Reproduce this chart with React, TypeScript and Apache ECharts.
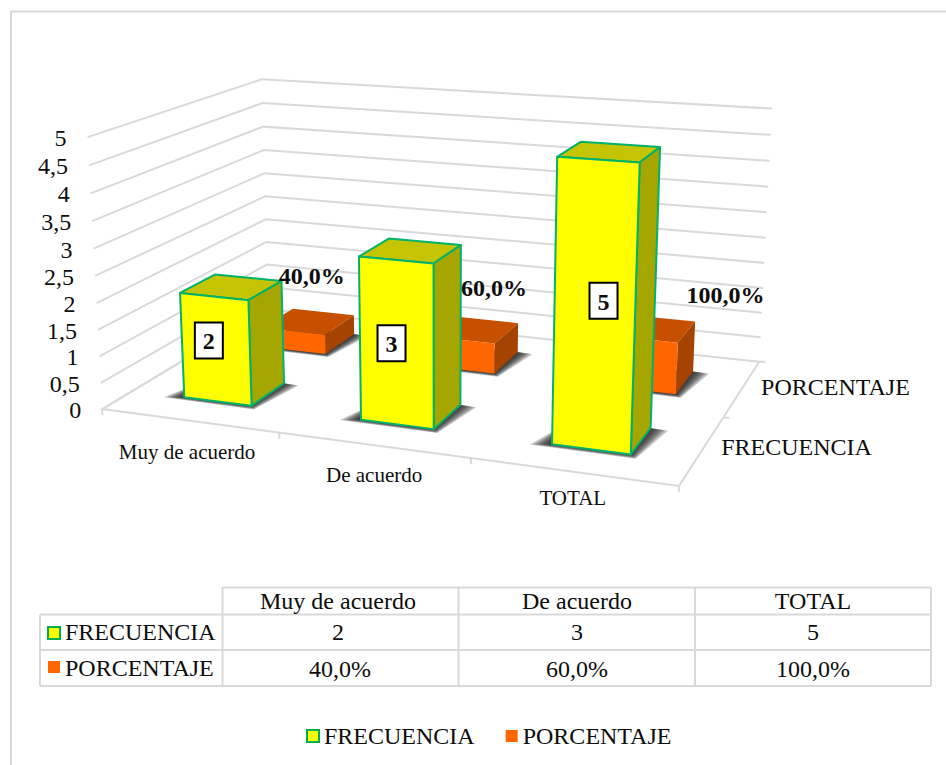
import React, { useEffect, useRef } from "react";
import * as echarts from "echarts";

const categories = ["Muy de acuerdo", "De acuerdo", "TOTAL"];
const frecuencia = [2, 3, 5];
const porcentaje = [0.4, 0.6, 1];
const frecuenciaText = ["2", "3", "5"];
const porcentajeText = ["40,0%", "60,0%", "100,0%"];
const yValues = [0, 0.5, 1, 1.5, 2, 2.5, 3, 3.5, 4, 4.5, 5];
const yLabels = ["0", "0,5", "1", "1,5", "2", "2,5", "3", "3,5", "4", "4,5", "5"];
const seriesNames = ["FRECUENCIA", "PORCENTAJE"];

const FONT = "Liberation Serif";
const GRID = "#d9d9d9";

// perspective calibration: (u, v, w) box corners -> page pixels
const calib: number[][] = [
  [0, 0, 0, 102, 409], [0, 0.5, 0, 95, 276], [0, 1, 0, 88, 137],
  [0, 0, 1, 269, 309], [0, 0.5, 1, 264, 197], [0, 1, 1, 262, 79],
  [1, 0, 1, 759, 362], [1, 0.5, 1, 766, 237], [1, 1, 1, 772, 109],
  [1, 0, 0, 679, 486],
];

function solve(): number[] {
  const n = 11;
  const A: number[][] = Array.from({ length: n }, () => new Array(n + 1).fill(0));
  const add = (r: number[], y: number) => {
    for (let i = 0; i < n; i++) {
      for (let j = 0; j < n; j++) A[i][j] += r[i] * r[j];
      A[i][n] += r[i] * y;
    }
  };
  for (const [u, v, w, X, Y] of calib) {
    add([u, v, w, 1, 0, 0, 0, 0, -X * u, -X * v, -X * w], X);
    add([0, 0, 0, 0, u, v, w, 1, -Y * u, -Y * v, -Y * w], Y);
  }
  for (let c = 0; c < n; c++) {
    let p = c;
    for (let r = c + 1; r < n; r++) if (Math.abs(A[r][c]) > Math.abs(A[p][c])) p = r;
    [A[c], A[p]] = [A[p], A[c]];
    for (let r = 0; r < n; r++) {
      if (r === c) continue;
      const f = A[r][c] / A[c][c];
      for (let k = c; k <= n; k++) A[r][k] -= f * A[c][k];
    }
  }
  return A.map((row, i) => row[n] / row[i]);
}
const P = solve();
const project = (u: number, v: number, w: number): number[] => {
  const d = P[8] * u + P[9] * v + P[10] * w + 1;
  return [
    (P[0] * u + P[1] * v + P[2] * w + P[3]) / d,
    (P[4] * u + P[5] * v + P[6] * w + P[7]) / d,
  ];
};

const BAR_WIDTH = 0.39; // share of a category band
const DEPTH_CENTER = [0.26, 0.745];
const DEPTH_HALF = [0.1, 0.105];
const SHADOW_LAYERS = [1, 0.85, 0.7, 0.55, 0.4, 0.25, 0.1];

const unit = (api: any, cs: any, cat: number, val: number) => {
  const p = api.coord([cat, val]);
  return { u: (p[0] - cs.x) / cs.width, v: 1 - (p[1] - cs.y) / cs.height };
};

const poly = (points: number[][], style: any) => ({ type: "polygon", shape: { points }, style });

function bar(params: any, api: any, s: number, front: string, top: string, side: string, stroke: string) {
  const cs = params.coordSys;
  const cat = api.value(0);
  const { u, v } = unit(api, cs, cat, api.value(1));
  const half = (api.size([1, 0])[0] / cs.width) * BAR_WIDTH * 0.5;
  const u0 = u - half, u1 = u + half;
  const w0 = DEPTH_CENTER[s] - DEPTH_HALF[s], w1 = DEPTH_CENTER[s] + DEPTH_HALF[s];
  const line = stroke ? { stroke, lineWidth: 2, lineJoin: "round" } : {};
  const shadow = SHADOW_LAYERS.map((k) =>
    poly(
      [
        project(u0 - 0.033 * k, 0, w0 - 0.02 * k), project(u1 + 0.012 * k, 0, w0 - 0.024 * k),
        project(u1 + 0.03 * k, 0, w1 - 0.005 * k), project(u0, 0, w1),
      ],
      { fill: "rgba(30,30,30,0.24)" },
    ),
  );
  return {
    type: "group",
    children: [
      ...shadow,
      poly([project(u0, v, w0), project(u1, v, w0), project(u1, v, w1), project(u0, v, w1)], { fill: top, ...line }),
      poly([project(u1, 0, w0), project(u1, 0, w1), project(u1, v, w1), project(u1, v, w0)], { fill: side, ...line }),
      poly([project(u0, 0, w0), project(u1, 0, w0), project(u1, v, w0), project(u0, v, w0)], { fill: front, ...line }),
    ],
  };
}

const text = (t: string, x: number, y: number, size: number, align = "center", bold = false, z2 = 0) => ({
  type: "text",
  z2,
  style: {
    text: t, x, y, fill: "#0d0d0d", align, verticalAlign: "middle",
    fontFamily: FONT, fontSize: size, fontWeight: bold ? "bold" : "normal",
  },
});

const gline = (x1: number, y1: number, x2: number, y2: number) => ({
  type: "line",
  shape: { x1, y1, x2, y2 },
  style: { stroke: GRID, lineWidth: 2 },
  silent: true,
});
const gtext = (t: string, x: number, y: number, align = "center") => ({
  type: "text",
  silent: true,
  style: { text: t, x, y, fill: "#0d0d0d", align, verticalAlign: "middle", fontFamily: FONT, fontSize: 24 },
});

const TABLE_X = [40, 222.5, 458.5, 695, 931];
const TABLE_Y = [587.5, 614.5, 650, 686];
const TABLE_TEXT_X = [338, 577, 813];

function tableElements() {
  const els: any[] = [
    gline(11, 11.5, 946, 11.5),
    gline(11, 11, 11, 765),
    gline(TABLE_X[1], TABLE_Y[0], TABLE_X[4], TABLE_Y[0]),
    gline(TABLE_X[0], TABLE_Y[1], TABLE_X[4], TABLE_Y[1]),
    gline(TABLE_X[0], TABLE_Y[2], TABLE_X[4], TABLE_Y[2]),
    gline(TABLE_X[0], TABLE_Y[3], TABLE_X[4], TABLE_Y[3]),
    gline(TABLE_X[0], TABLE_Y[1], TABLE_X[0], TABLE_Y[3]),
  ];
  for (let i = 1; i < TABLE_X.length; i++) els.push(gline(TABLE_X[i], TABLE_Y[0], TABLE_X[i], TABLE_Y[3]));
  categories.forEach((c, i) => {
    const cx = TABLE_TEXT_X[i];
    els.push(gtext(c, cx, 601));
    els.push(gtext(frecuenciaText[i], cx, 632));
    els.push(gtext(porcentajeText[i], i === 0 ? cx + 2 : cx, 669));
  });
  els.push(gtext(seriesNames[0], 65, 632, "left"));
  els.push(gtext(seriesNames[1], 65, 668, "left"));
  els.push({
    type: "rect", silent: true, shape: { x: 48, y: 627, width: 12, height: 12 },
    style: { fill: "#FFFF00", stroke: "#00B050", lineWidth: 2 },
  });
  els.push({
    type: "rect", silent: true, shape: { x: 48, y: 661, width: 12, height: 12 },
    style: { fill: "#FF6600" },
  });
  return els;
}

const labelNudge = [[3, -45], [21, -42], [75, -33]];
const boxNudge = [[-7, -9], [-5, 0], [9, -7]];
const catNudge = [[-2, 31], [1, 30], [0, 26]];

export default function App() {
  const ref = useRef<HTMLDivElement>(null);
  useEffect(() => {
    document.body.style.margin = "0";
    document.body.style.background = "#fff";
    const chart = echarts.init(ref.current!, undefined, { renderer: "svg" });
    chart.setOption({
      animation: false,
      backgroundColor: "#ffffff",
      grid: { left: 100, top: 100, width: 600, height: 300, containLabel: false },
      xAxis: { type: "category", data: categories, show: false },
      yAxis: { type: "value", min: 0, max: 5, interval: 0.5, show: false },
      legend: {
        left: 306,
        top: 724,
        itemWidth: 12,
        itemHeight: 12,
        itemGap: 31,
        padding: 0,
        selectedMode: false,
        textStyle: { fontFamily: FONT, fontSize: 24, color: "#0d0d0d" },
        data: [
          { name: seriesNames[0], icon: "rect", itemStyle: { color: "#FFFF00", borderColor: "#00B050", borderWidth: 2 } },
          { name: seriesNames[1], icon: "rect", itemStyle: { color: "#FF6600", borderWidth: 0 } },
        ],
      },
      graphic: { elements: tableElements() },
      series: [
        {
          type: "custom",
          name: "walls",
          silent: true,
          clip: false,
          data: yValues.map((v, i) => [0, v, i]),
          encode: { x: 0, y: 1 },
          renderItem: (params: any, api: any) => {
            const { v } = unit(api, params.coordSys, 0, api.value(1));
            const style = { stroke: GRID, lineWidth: 2, fill: "none" };
            const children: any[] = [
              { type: "polyline", shape: { points: [project(0, v, 0), project(0, v, 1), project(1, v, 1)] }, style },
            ];
            const a = project(0, v, 0);
            children.push(text(yLabels[api.value(2)], a[0] - 21, a[1] + 1, 24, "right"));
            if (v === 0) {
              children.push({ type: "polyline", shape: { points: [project(0, 0, 1), project(0, 0, 0), project(1, 0, 0), project(1, 0, 1)] }, style });
              [0, 1 / 3, 2 / 3, 1].forEach((t) => {
                const p = project(t, 0, 0);
                children.push({ type: "line", shape: { x1: p[0], y1: p[1], x2: p[0], y2: p[1] + 6 }, style });
              });
              [0.5, 1].forEach((t) => {
                const p = project(1, 0, t);
                children.push({ type: "line", shape: { x1: p[0], y1: p[1], x2: p[0] + 6, y2: p[1] }, style });
              });
              const f = project(1, 0, 0.25);
              const b = project(1, 0, 0.75);
              children.push(text(seriesNames[0], f[0] + 19, f[1] - 3, 24, "left"));
              children.push(text(seriesNames[1], b[0] + 19, b[1] - 1, 24, "left"));
            }
            return { type: "group", children };
          },
        },
        {
          type: "custom",
          name: seriesNames[1],
          silent: true,
          clip: false,
          itemStyle: { color: "#FF6600" },
          data: porcentaje.map((v, i) => [i, v]),
          encode: { x: 0, y: 1 },
          renderItem: (params: any, api: any) => bar(params, api, 1, "#FF6600", "#C75000", "#A54300", ""),
        },
        {
          type: "custom",
          name: seriesNames[0],
          silent: true,
          clip: false,
          itemStyle: { color: "#FFFF00" },
          data: frecuencia.map((v, i) => [i, v]),
          encode: { x: 0, y: 1 },
          renderItem: (params: any, api: any) => bar(params, api, 0, "#FFFF00", "#C4C400", "#A6A600", "#00B26A"),
        },
        {
          type: "custom",
          name: "labels",
          silent: true,
          clip: false,
          data: frecuencia.map((v, i) => [i, v, porcentaje[i]]),
          encode: { x: 0, y: 1 },
          renderItem: (params: any, api: any) => {
            const cs = params.coordSys;
            const i = api.value(0);
            const { u, v } = unit(api, cs, i, api.value(1));
            const por = unit(api, cs, i, api.value(2));
            const c = project(u, v / 2, DEPTH_CENTER[0] - DEPTH_HALF[0]);
            const bx = c[0] + boxNudge[i][0];
            const by = c[1] + boxNudge[i][1];
            const t = project(u, por.v, DEPTH_CENTER[1]);
            const g = project(u, 0, 0);
            return {
              type: "group",
              children: [
                { type: "rect", shape: { x: bx - 14, y: by - 18, width: 28, height: 36 }, style: { fill: "#fff", stroke: "#000", lineWidth: 2 } },
                text(frecuenciaText[i], bx, by + 1, 24, "center", true),
                text(porcentajeText[i], t[0] + labelNudge[i][0], t[1] + labelNudge[i][1], 24, "center", true),
                text(categories[i], g[0] + catNudge[i][0], g[1] + catNudge[i][1], 21, "center"),
              ],
            };
          },
        },
      ],
    });
    return () => chart.dispose();
  }, []);
  return <div ref={ref} style={{ width: 946, height: 765 }} />;
}
